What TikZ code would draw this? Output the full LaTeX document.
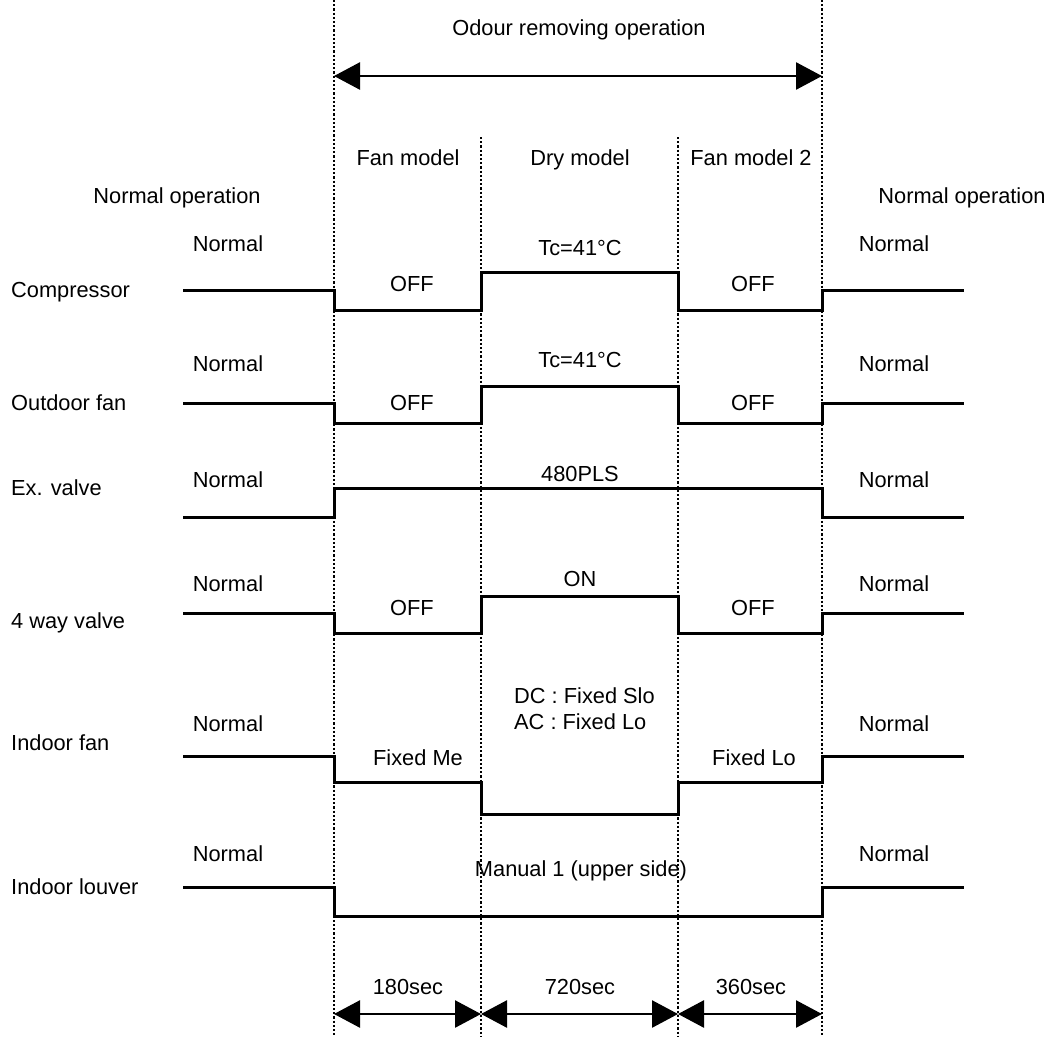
\documentclass[tikz,border=0pt]{standalone}
\usepackage{fontspec}
\setmainfont{Liberation Sans}
\usetikzlibrary{positioning,arrows.meta}

\begin{document}
\begin{tikzpicture}[x=1pt,y=-1pt,font=\fontsize{21.8}{26}\selectfont,
      txt/.style={anchor=base,inner sep=0pt},
      sig/.style={line width=3pt,line join=miter},
      divider/.style={line width=2.2pt,dash pattern=on 2.2pt off 2pt},
      span/.style={line width=2.6pt,{Triangle[length=26pt,width=27pt]}-{Triangle[length=26pt,width=27pt]}}]
    \useasboundingbox (0,0) rectangle (1053,1037);
    % phase boundaries
    \foreach \k/\x/\top in {0/334/0,1/481/137,2/678/137,3/822/0} {
      \coordinate (top\k) at (\x,\top);
      \coordinate (bot\k) at (\x,1037);
      \coordinate (odr\k) at (\x,76);
      \coordinate (sec\k) at (\x,1014);
      \draw[divider] (top\k) -- (bot\k);
    }
    \node[txt] (odour) at (579,35) {Odour removing operation};
    \draw[span] (odr0) -- (odr3);

    \node[txt] (fan1) at (408,165) {Fan model};
    \node[txt] (dry)  at (580,165) {Dry model};
    \node[txt] (fan2) at (751,165) {Fan model 2};
    \node[txt] (nopl) at (177,203) {Normal operation};
    \node[txt] (nopr) at (962,203) {Normal operation};

    % signals: name / label y / normal text y / normal / fan / dry / fan 2 / after
    \foreach \i/\name/\ly/\ny/\ya/\yb/\yc/\yd/\ye in {
        1/Compressor/297/251/290/310/272/310/290,
        2/Outdoor fan/410/371/403/423/386/423/403,
        3/Ex. valve/495/487/517/488/488/488/517,
        4/4 way valve/628/591/613/633/596/633/613,
        5/Indoor fan/750/731/756/782/814/782/756,
        6/Indoor louver/894/861/887/916/916/916/887} {
      \node[txt,anchor=base west] (row\i) at (11,\ly) {\name};
      \node[txt] (nl\i) at (228,\ny) {Normal};
      \node[txt] (nr\i) at (894,\ny) {Normal};
      \draw[sig] (183,\ya) -| (334,\yb) -| (481,\yc) -| (678,\yd) -| (822,\ye) -- (964,\ye);
    }

    % state texts
    \node[txt] (tc1)  at (580,255) {Tc=41\textdegree C};
    \node[txt] (off1) at (412,291) {OFF};
    \node[txt] (off2) at (753,291) {OFF};
    \node[txt] (tc2)  at (580,367) {Tc=41\textdegree C};
    \node[txt] (off3) at (412,410) {OFF};
    \node[txt] (off4) at (753,410) {OFF};
    \node[txt] (pls)  at (580,481) {480PLS};
    \node[txt] (on)   at (580,586) {ON};
    \node[txt] (off5) at (412,615) {OFF};
    \node[txt] (off6) at (753,615) {OFF};
    \node[txt,anchor=base west] (dc) at (514,703) {DC : Fixed Slo};
    \node[txt,anchor=base west] (ac) at (514,729) {AC : Fixed Lo};
    \node[txt] (fme)  at (418,765) {Fixed Me};
    \node[txt] (flo)  at (754,765) {Fixed Lo};
    \node[txt] (man)  at (581,876) {Manual 1 (upper side)};

    % durations
    \node[txt] (t180) at (408,994) {180sec};
    \node[txt] (t720) at (580,994) {720sec};
    \node[txt] (t360) at (751,994) {360sec};
    \draw[span] (sec0) -- (sec1);
    \draw[span] (sec1) -- (sec2);
    \draw[span] (sec2) -- (sec3);
  \end{tikzpicture}
\end{document}
